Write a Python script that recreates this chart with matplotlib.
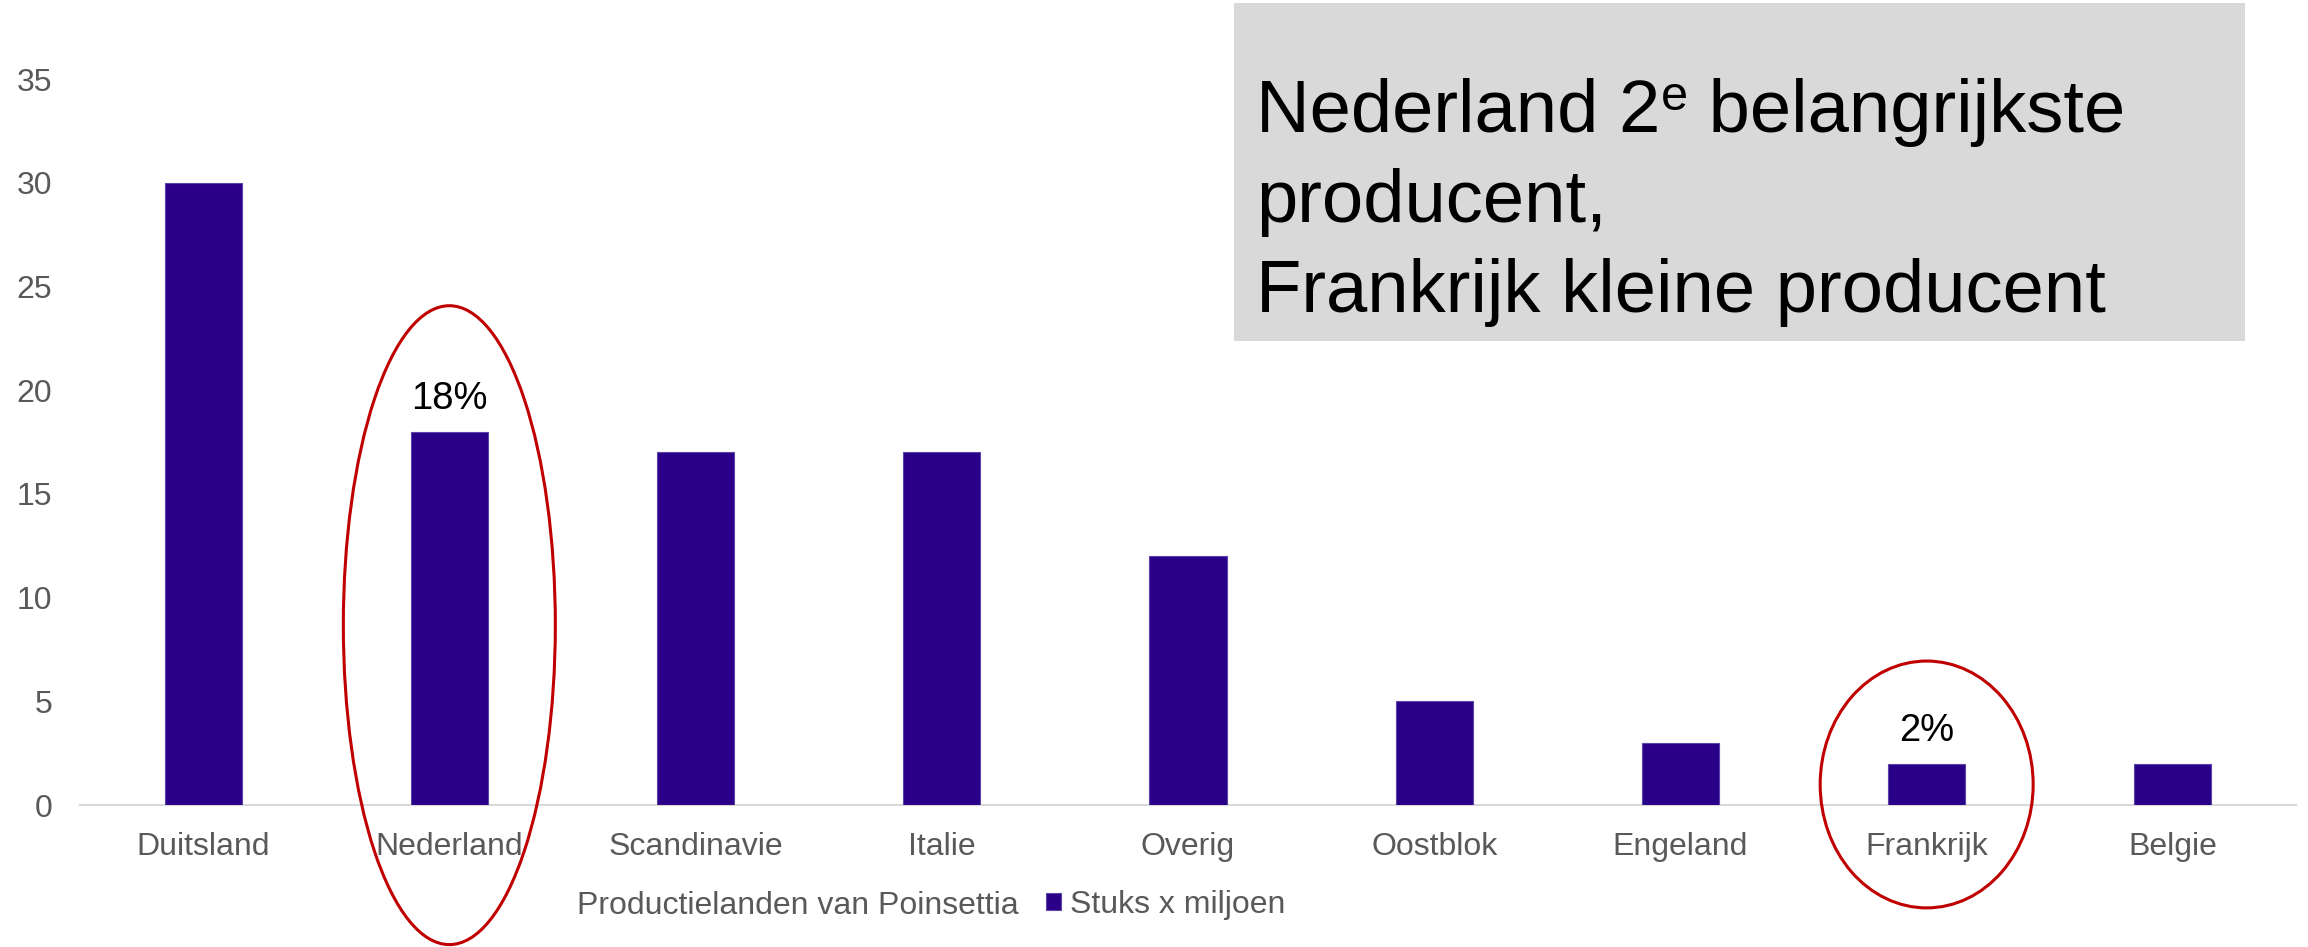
import matplotlib.pyplot as plt
from matplotlib.patches import Ellipse, Rectangle

plt.rcParams['font.family'] = ['Liberation Sans', 'DejaVu Sans']

countries = ['Duitsland', 'Nederland', 'Scandinavie', 'Italie', 'Overig',
             'Oostblok', 'Engeland', 'Frankrijk', 'Belgie']
stuks = [30, 18, 17, 17, 12, 5, 3, 2, 2]
share_labels = {'Nederland': '18%', 'Frankrijk': '2%'}
y_ticks = [0, 5, 10, 15, 20, 25, 30, 35]

series_name = 'Stuks x miljoen'
axis_title = 'Productielanden van Poinsettia'
headline = [
    [('Nederland 2', 53.5, 0), ('e', 35, 22), (' belangrijkste', 53.5, 0)],
    [('producent,', 53.5, 0)],
    [('Frankrijk kleine producent', 53.5, 0)],
]

W, H = 2308, 947
BAR = '#2a0088'
GREY = '#595959'

fig = plt.figure(figsize=(W / 100, H / 100), dpi=100)
ax = fig.add_axes([80 / W, 1 - 805 / H, 2216 / W, 726 / H])

x = list(range(len(countries)))
bars = ax.bar(x, stuks, width=0.313, color=BAR, edgecolor='#5b45a8',
              linewidth=0.8, label=series_name, zorder=3)

for i, name in enumerate(countries):
    if name in share_labels:
        ax.annotate(share_labels[name], xy=(i, stuks[i]), xytext=(0, 16),
                    textcoords='offset points', ha='center', va='baseline',
                    fontsize=27.5, color='black')

ax.set_xlim(-0.5, len(countries) - 0.5)
ax.set_ylim(0, 35)
ax.set_yticks(y_ticks)
ax.set_xticks(x)
ax.set_xticklabels(countries)
ax.tick_params(axis='both', length=0, labelsize=23, labelcolor=GREY)
ax.tick_params(axis='y', pad=20)
ax.tick_params(axis='x', pad=19.5)
for side in ['top', 'right', 'left']:
    ax.spines[side].set_visible(False)
ax.spines['bottom'].set_color('#d9d9d9')
ax.spines['bottom'].set_linewidth(1.5)

# red rings around the two highlighted countries
ax.add_patch(Ellipse((1.0, 8.67), 0.861, 30.8, fill=False, edgecolor='#c00000',
                     linewidth=2.2, clip_on=False, zorder=4))
ax.add_patch(Ellipse((7.0, 0.99), 0.865, 11.9, fill=False, edgecolor='#c00000',
                     linewidth=2.2, clip_on=False, zorder=4))

# axis title + legend on one row below the chart
fig.text(577 / W, 1 - 914 / H, axis_title, fontsize=23, color=GREY,
         ha='left', va='baseline')
fig.legend(handles=[bars], labels=[series_name], loc='center left',
           bbox_to_anchor=(1046 / W, 1 - 905 / H), frameon=False,
           borderpad=0, borderaxespad=0, handlelength=0.47, handleheight=0.47,
           handletextpad=0.28, fontsize=23, labelcolor=GREY)

# grey headline box, top right
fig.patches.append(Rectangle((1234 / W, 1 - 341 / H), 1011 / W, 338 / H,
                             transform=fig.transFigure, facecolor='#d9d9d9',
                             edgecolor='none', zorder=0))
renderer = fig.canvas.get_renderer()
for line, base in zip(headline, [132, 222, 312]):
    px = 1256
    for s, size, rise in line:
        t = fig.text(px / W, 1 - (base - rise) / H, s, fontsize=size,
                     color='black', ha='left', va='baseline', zorder=2)
        px = t.get_window_extent(renderer).x1

fig.savefig('out.png', dpi=100)
